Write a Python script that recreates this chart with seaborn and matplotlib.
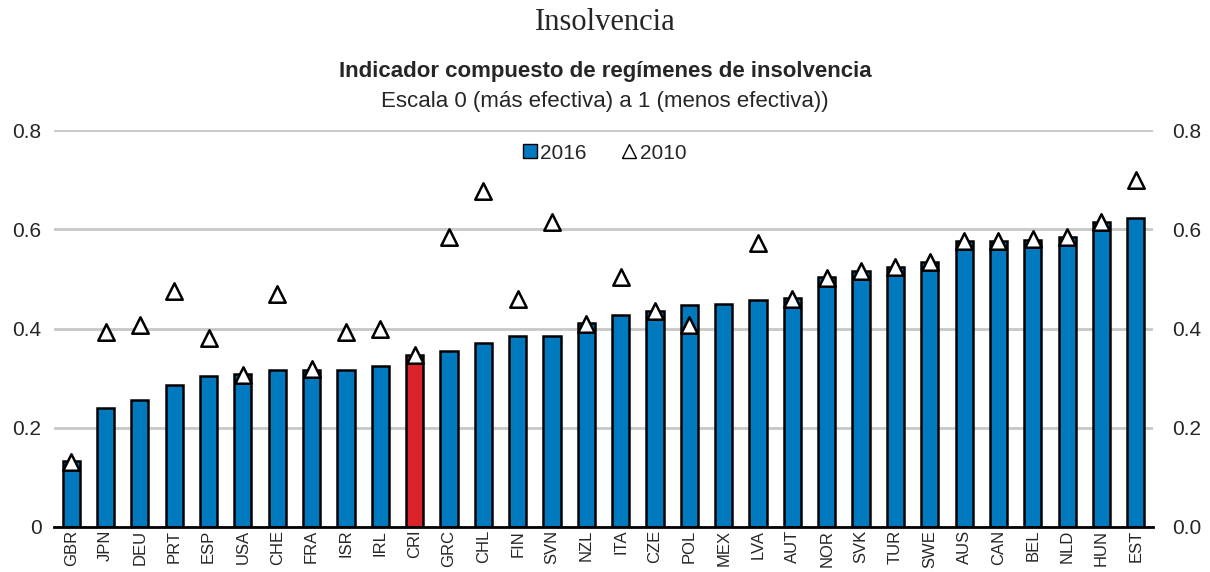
import numpy as np
import pandas as pd
import seaborn as sns
import matplotlib.pyplot as plt
from matplotlib.lines import Line2D
from matplotlib.ticker import FixedLocator

# Datos
paises = ['GBR', 'JPN', 'DEU', 'PRT', 'ESP', 'USA', 'CHE', 'FRA', 'ISR', 'IRL', 'CRI',
          'GRC', 'CHL', 'FIN', 'SVN', 'NZL', 'ITA', 'CZE', 'POL', 'MEX', 'LVA', 'AUT',
          'NOR', 'SVK', 'TUR', 'SWE', 'AUS', 'CAN', 'BEL', 'NLD', 'HUN', 'EST']
valores_2016 = [0.133, 0.239, 0.255, 0.286, 0.304, 0.308, 0.316, 0.316, 0.316, 0.324, 0.346,
                0.355, 0.370, 0.385, 0.385, 0.412, 0.427, 0.435, 0.447, 0.450, 0.457, 0.462,
                0.504, 0.516, 0.523, 0.534, 0.577, 0.577, 0.579, 0.585, 0.615, 0.622]
valores_2010 = [0.130, 0.392, 0.407, 0.476, 0.380, 0.307, 0.469, 0.318, 0.392, 0.399, 0.347,
                0.585, 0.677, 0.460, 0.615, 0.410, 0.503, 0.435, 0.407, np.nan, 0.573, 0.460,
                0.502, 0.515, 0.523, 0.534, 0.577, 0.577, 0.580, 0.584, 0.615, 0.699]
resaltado = 'CRI'

df = pd.DataFrame({'pais': paises, 'v2016': valores_2016, 'v2010': valores_2010})

azul = '#0179bf'
rojo = '#d9222a'
colores = [rojo if p == resaltado else azul for p in df['pais']]

sns.set_style('white')
plt.rcParams['font.family'] = ['Liberation Sans', 'DejaVu Sans']

fig = plt.figure(figsize=(12.1, 5.72), dpi=100)
ax = fig.add_axes([54 / 1210, 1 - 527 / 572, 1099 / 1210, 397 / 572])

sns.barplot(data=df, x='pais', y='v2016', hue='pais', palette=colores, legend=False,
            width=0.5, edgecolor='black', linewidth=1.8, saturation=1, ax=ax, zorder=3)
sns.scatterplot(x=np.arange(len(df)), y=df['v2010'], marker='^', s=140, color='white',
                edgecolor='black', linewidth=1.8, ax=ax, zorder=4, legend=False)

ax.set_xlim(-0.5, len(df) - 0.5)
ax.set_ylim(0, 0.8)
ax.set_yticks([0, 0.2, 0.4, 0.6, 0.8])
ax.set_yticklabels(['0', '0.2', '0.4', '0.6', '0.8'], fontsize=15)
ax.set_xlabel('')
ax.set_ylabel('')
ax.grid(axis='y', color='#c8c8c8', linewidth=2, zorder=0)
ax.set_axisbelow(True)
for s in ['top', 'left', 'right']:
    ax.spines[s].set_visible(False)
ax.spines['bottom'].set_color('black')
ax.spines['bottom'].set_linewidth(2)
ax.spines['bottom'].set_zorder(5)
ax.tick_params(axis='y', length=0, pad=9)
ax.tick_params(axis='x', length=0, pad=2)
ax.set_xticks(range(len(df)))
ax.set_xticklabels(df['pais'], rotation=90, fontsize=12)
ax.xaxis.set_minor_locator(FixedLocator(np.arange(-0.5, len(df), 1)))
ax.tick_params(axis='x', which='minor', direction='in', length=6, width=2, color='black')

ax2 = ax.twinx()
ax2.set_ylim(0, 0.8)
ax2.set_yticks([0, 0.2, 0.4, 0.6, 0.8])
ax2.set_yticklabels(['0.0', '0.2', '0.4', '0.6', '0.8'], fontsize=15)
ax2.tick_params(axis='y', length=0, pad=14)
for s in ax2.spines.values():
    s.set_visible(False)

# Leyenda
handles = [Line2D([], [], marker='s', linestyle='none', markerfacecolor=azul,
                  markeredgecolor='black', markersize=10, label='2016'),
           Line2D([], [], marker='^', linestyle='none', markerfacecolor='white',
                  markeredgecolor='black', markersize=10, label='2010')]
ax.legend(handles=handles, loc='center', bbox_to_anchor=(0.5, 0.942), ncol=2, frameon=False,
          fontsize=15, handletextpad=0.05, columnspacing=1.6, handlelength=0.9)

# Titulos
fig.text(0.5, 1 - 22 / 572, 'Insolvencia', ha='center', va='center', fontsize=22,
         family=['Liberation Serif', 'DejaVu Serif'])
fig.text(0.5, 1 - 72 / 572, 'Indicador compuesto de regímenes de insolvencia', ha='center',
         va='center', fontsize=16, fontweight='bold')
fig.text(0.5, 1 - 101 / 572, 'Escala 0 (más efectiva) a 1 (menos efectiva))', ha='center',
         va='center', fontsize=16)

fig.savefig('out.png', dpi=100)
